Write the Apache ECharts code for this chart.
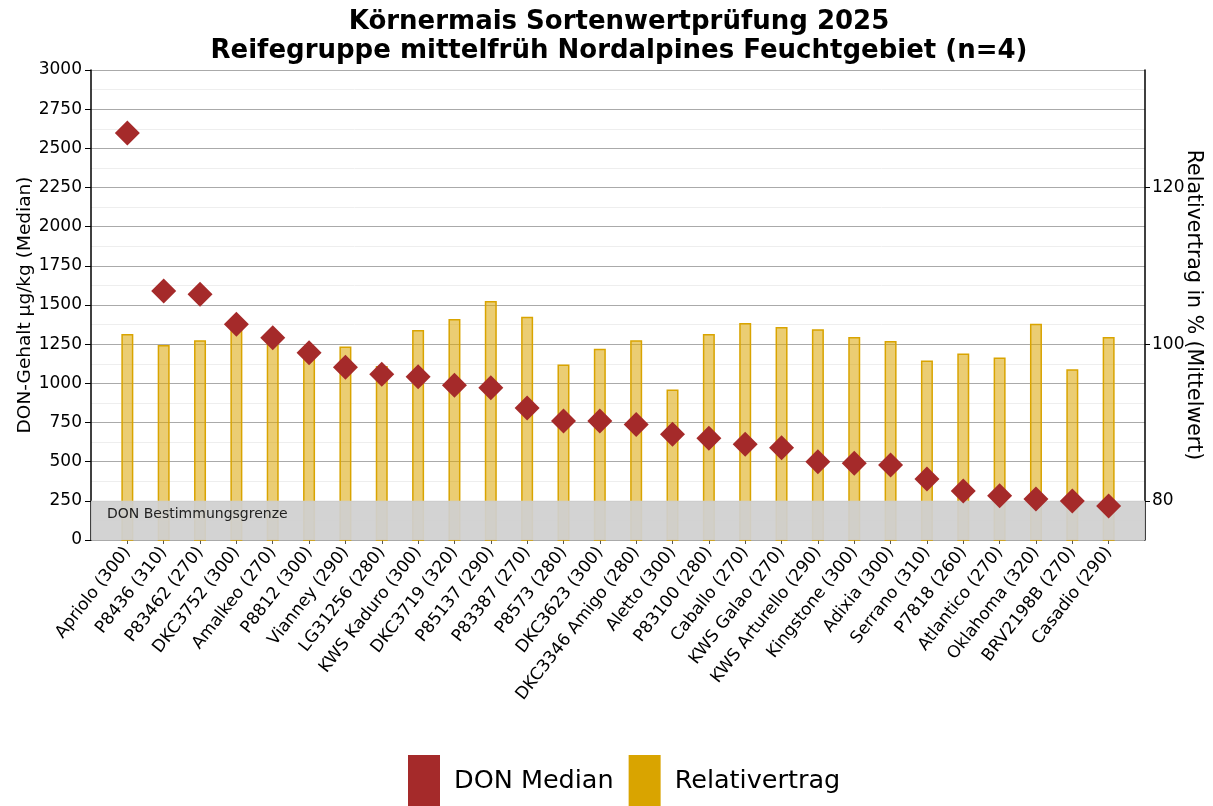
<!DOCTYPE html>
<html>
<head>
<meta charset="utf-8">
<script src="https://cdn.jsdelivr.net/npm/echarts@6/dist/echarts.min.js"></script>
<style>
 html, body { margin: 0; padding: 0; background: #fff; }
 #main { width: 1213px; height: 806px; }
</style>
</head>
<body>
<div id="main"></div>
<script>
// Sorten (Reifezahl)
const sorten = ['Apriolo (300)', 'P8436 (310)', 'P83462 (270)', 'DKC3752 (300)', 'Amalkeo (270)',
 'P8812 (300)', 'Vianney (290)', 'LG31256 (280)', 'KWS Kaduro (300)', 'DKC3719 (320)',
 'P85137 (290)', 'P83387 (270)', 'P8573 (280)', 'DKC3623 (300)', 'DKC3346 Amigo (280)',
 'Aletto (300)', 'P83100 (280)', 'Caballo (270)', 'KWS Galao (270)', 'KWS Arturello (290)',
 'Kingstone (300)', 'Adixia (300)', 'Serrano (310)', 'P7818 (260)', 'Atlantico (270)',
 'Oklahoma (320)', 'BRV2198B (270)', 'Casadio (290)'];

// DON median ug/kg
const donMedian = [2598, 1589, 1568, 1377, 1291, 1196, 1102, 1058, 1042, 987,
 972, 843, 760, 760, 738, 675, 649, 611, 589, 500,
 490, 479, 389, 313, 283, 262, 249, 217];

// Relativertrag in %
const relErtrag = [101.3, 99.9, 100.5, 102.5, 101.0, 99.0, 99.7, 97.2, 101.8, 103.2,
 105.5, 103.5, 97.4, 99.4, 100.5, 94.2, 101.3, 102.7, 102.2, 101.9,
 100.9, 100.4, 97.9, 98.8, 98.3, 102.6, 96.8, 100.9];

const donGrenze = 250;
const rightTicks = [80, 100, 120];

// leere Kategorien links/rechts als Rand
const xCats = [''].concat(sorten, ['']);
const pad = arr => [null].concat(arr, [null]);
const lastIdx = xCats.length - 1;

const font = 'DejaVu Sans';
const chart = echarts.init(document.getElementById('main'));

chart.setOption({
 animation: false,
 textStyle: { fontFamily: font },
 title: {
 text: 'Körnermais Sortenwertprüfung 2025\nReifegruppe mittelfrüh Nordalpines Feuchtgebiet (n=4)',
 left: 614,
 top: 3,
 textAlign: 'center',
 textStyle: { fontFamily: font, fontSize: 26, fontWeight: 'bold', lineHeight: 29, color: '#000' }
 },
 legend: {
 left: 408,
 top: 755,
 padding: 0,
 itemWidth: 32,
 itemHeight: 52,
 itemGap: 15,
 icon: 'rect',
 textStyle: { fontFamily: font, fontSize: 25.5, color: '#000', padding: [0, 0, 0, 9] },
 data: [
 { name: 'DON Median', itemStyle: { color: '#A52A2A', opacity: 1 } },
 { name: 'Relativertrag', itemStyle: { color: '#D9A400', opacity: 1, borderWidth: 0 } }
 ]
 },
 grid: { left: 91, right: 68, top: 70, bottom: 266, outerBoundsMode: 'none' },
 xAxis: {
 type: 'category',
 data: xCats,
 boundaryGap: false,
 axisLine: { show: false },
 axisTick: {
 show: true,
 length: 4,
 interval: i => i > 0 && i < lastIdx,
 lineStyle: { color: '#555' }
 },
 axisLabel: {
 rotate: 52,
 interval: 0,
 fontSize: 17,
 color: '#000',
 margin: 9
 },
 splitLine: { show: false }
 },
 yAxis: [
 {
 type: 'value',
 min: 0,
 max: 3000,
 interval: 250,
 name: 'DON-Gehalt µg/kg (Median)',
 nameLocation: 'middle',
 nameGap: 56,
 nameMoveOverlap: false,
 nameTextStyle: { fontSize: 18.5, color: '#000' },
 axisLine: { show: true, lineStyle: { color: '#000', width: 1.5 } },
 axisTick: { show: true, length: 6, lineStyle: { color: '#000' } },
 axisLabel: { fontSize: 17, color: '#000', margin: 9, formatter: v => String(v) },
 splitLine: { show: true, lineStyle: { color: '#aaa', width: 1.2 } },
 minorTick: { show: false, splitNumber: 2 },
 minorSplitLine: { show: true, lineStyle: { color: '#eee', width: 1 } }
 },
 {
 type: 'value',
 min: 75,
 max: 135,
 position: 'right',
 name: 'Relativertrag in % (Mittelwert)',
 nameLocation: 'middle',
 nameRotate: -90,
 nameGap: 38,
 nameMoveOverlap: false,
 nameTextStyle: { fontSize: 20.5, color: '#000' },
 axisLine: { show: true, lineStyle: { color: '#000', width: 1.5 } },
 axisTick: { show: true, length: 5, customValues: rightTicks, lineStyle: { color: '#000' } },
 axisLabel: { fontSize: 17, color: '#000', margin: 7, customValues: rightTicks },
 splitLine: { show: false }
 }
 ],
 series: [
 {
 name: 'Relativertrag',
 type: 'bar',
 yAxisIndex: 1,
 z: 2,
 barWidth: 12,
 data: pad(relErtrag),
 itemStyle: { color: 'rgba(218,164,0,0.55)', borderColor: '#D9A400', borderWidth: 1.5 }
 },
 {
 name: 'DON Median',
 type: 'scatter',
 yAxisIndex: 0,
 z: 4,
 symbol: 'diamond',
 symbolSize: 25,
 data: pad(donMedian),
 itemStyle: { color: '#A52A2A', opacity: 1 },
 markArea: {
 silent: true,
 z: 3,
 itemStyle: { color: 'rgba(208,208,208,0.93)' },
 label: {
 show: true,
 position: 'insideTopLeft',
 distance: 7,
 offset: [9, 0],
 fontFamily: font,
 fontSize: 14,
 color: '#222'
 },
 data: [[{ yAxis: 0, x: 91, name: 'DON Bestimmungsgrenze' }, { yAxis: donGrenze, x: 1145 }]]
 }
 }
 ]
});
</script>
</body>
</html>
